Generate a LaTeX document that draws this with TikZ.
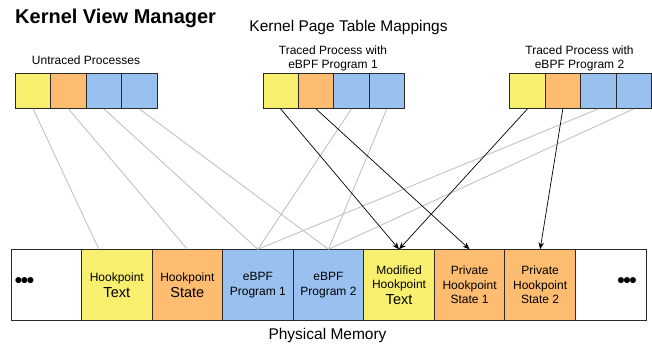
\documentclass[tikz,border=0pt]{standalone}
\usepackage{fontspec}
\setmainfont{Liberation Sans}
\usetikzlibrary{arrows.meta,calc}
\definecolor{cyel}{HTML}{F8EF6E}
\definecolor{corg}{HTML}{FDBC70}
\definecolor{cblu}{HTML}{99C1F0}
\definecolor{cedge}{HTML}{2A2A2A}
\definecolor{cgline}{HTML}{C2C2C2}
\begin{document}
\begin{tikzpicture}[x=1pt,y=-1pt,
  mcell/.style={draw=cedge, line width=0.9pt, minimum width=70.56pt, minimum height=70.5pt, anchor=north west, inner sep=0pt, align=center, font=\fontsize{12}{14.5}\selectfont},
  pcell/.style={draw=cedge, line width=0.9pt, minimum width=35.4pt, minimum height=35.5pt, anchor=north west, inner sep=0pt},
  mapline/.style={draw=cgline, line width=0.9pt},
  maparrow/.style={draw=black, line width=0.7pt, -{Stealth[length=7pt,width=5.5pt]}},
  lbl/.style={font=\fontsize{12}{14.3}\selectfont, align=center, inner sep=0pt},
  dots/.style={font=\fontsize{21}{21}\selectfont\bfseries, inner sep=0pt}]
\useasboundingbox (0,0) rectangle (652,345);

% titles
\node[anchor=base west, inner sep=0pt, font=\fontsize{20}{24}\selectfont\bfseries] (title) at (15,23.5) {Kernel View Manager};
\node[anchor=base, inner sep=0pt, font=\fontsize{15.5}{18}\selectfont] (kpt) at (348.5,31) {Kernel Page Table Mappings};
\node[anchor=base, inner sep=0pt, font=\fontsize{12}{14}\selectfont] (ulbl) at (86,64.5) {Untraced Processes};
\node[lbl] (alb) at (333,58.6) {Traced Process with\\eBPF Program 1};
\node[lbl] (blb) at (579.5,58.6) {Traced Process with\\eBPF Program 2};
\node[anchor=base, inner sep=0pt, font=\fontsize{15.5}{18}\selectfont] (pm) at (327.5,339) {Physical Memory};

% page table cells
\node[pcell, fill=cyel] (u1) at (15,72.5) {};
\node[pcell, fill=corg] (u2) at (50.4,72.5) {};
\node[pcell, fill=cblu] (u3) at (85.8,72.5) {};
\node[pcell, fill=cblu] (u4) at (121.2,72.5) {};

\node[pcell, fill=cyel] (a1) at (262.5,72.5) {};
\node[pcell, fill=corg] (a2) at (297.9,72.5) {};
\node[pcell, fill=cblu] (a3) at (333.3,72.5) {};
\node[pcell, fill=cblu] (a4) at (368.7,72.5) {};

\node[pcell, fill=cyel] (b1) at (509.3,72.5) {};
\node[pcell, fill=corg] (b2) at (544.7,72.5) {};
\node[pcell, fill=cblu] (b3) at (580.1,72.5) {};
\node[pcell, fill=cblu] (b4) at (615.5,72.5) {};

% physical memory cells
\node[mcell, fill=white] (m0) at (10.5,249.3) {};
\node[mcell, fill=cyel] (m1) at (81.06,249.3) {Hookpoint\\[1.5pt]{\fontsize{14.5}{16}\selectfont Text}};
\node[mcell, fill=corg] (m2) at (151.62,249.3) {Hookpoint\\[1.5pt]{\fontsize{14.5}{16}\selectfont State}};
\node[mcell, fill=cblu] (m3) at (222.18,249.3) {eBPF\\Program 1};
\node[mcell, fill=cblu] (m4) at (292.74,249.3) {eBPF\\Program 2};
\node[mcell, fill=cyel] (m5) at (363.3,249.3) {Modified\\Hookpoint\\[1pt]{\fontsize{14.5}{16}\selectfont Text}};
\node[mcell, fill=corg] (m6) at (433.86,249.3) {Private\\Hookpoint\\State 1};
\node[mcell, fill=corg] (m7) at (504.42,249.3) {Private\\Hookpoint\\State 2};
\node[mcell, fill=white] (m8) at (574.98,249.3) {};
\node[dots] (d0) at (24.5,283) {•\kern-1.3pt•\kern-1.3pt•};
\node[dots] (d8) at (627,283) {•\kern-1.3pt•\kern-1.3pt•};

% gray mappings
\draw[mapline] (u1.south) -- ($(m1.north west)!0.25!(m1.north east)$);
\draw[mapline] (u2.south) -- (m2.north);
\draw[mapline] (u3.south) -- (m3.north);
\draw[mapline] (u4.south) -- (m4.north);
\draw[mapline] (a3.south) -- (m3.north);
\draw[mapline] (a4.south) -- (m4.north);
\draw[mapline] (b3.south) -- (m3.north);
\draw[mapline] (b4.south) -- (m4.north);

% private mappings
\draw[maparrow] (a1.south) -- (m5.north);
\draw[maparrow] (a2.south) -- (m6.north);
\draw[maparrow] (b1.south) -- (m5.north);
\draw[maparrow] (b2.south) -- (m7.north);
\end{tikzpicture}
\end{document}
